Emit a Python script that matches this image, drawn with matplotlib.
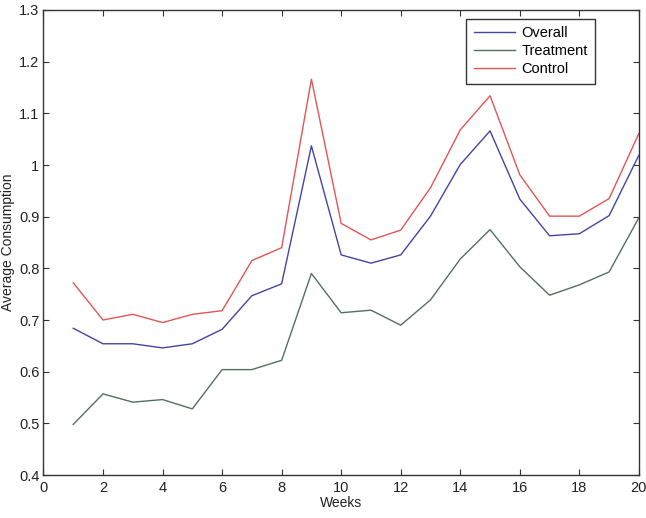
import matplotlib
matplotlib.use("Agg")
import matplotlib.pyplot as plt

plt.rcParams['font.family'] = ['Liberation Sans', 'DejaVu Sans']

weeks = list(range(1, 21))
overall = [0.684, 0.654, 0.654, 0.646, 0.654, 0.682, 0.747, 0.770, 1.037, 0.826,
           0.810, 0.826, 0.901, 1.001, 1.066, 0.934, 0.863, 0.867, 0.902, 1.019]
treatment = [0.498, 0.557, 0.541, 0.546, 0.528, 0.604, 0.604, 0.622, 0.790, 0.714,
             0.719, 0.690, 0.739, 0.818, 0.875, 0.803, 0.748, 0.768, 0.793, 0.898]
control = [0.772, 0.700, 0.711, 0.695, 0.711, 0.718, 0.815, 0.840, 1.166, 0.887,
           0.855, 0.874, 0.956, 1.068, 1.134, 0.981, 0.901, 0.901, 0.935, 1.061]
labels = ["Overall", "Treatment", "Control"]
xticks = list(range(0, 21, 2))
yticks = [0.4, 0.5, 0.6, 0.7, 0.8, 0.9, 1.0, 1.1, 1.2, 1.3]
ytick_labels = ["0.4", "0.5", "0.6", "0.7", "0.8", "0.9", "1", "1.1", "1.2", "1.3"]

fig = plt.figure(figsize=(6.46, 5.18), dpi=100)
ax = fig.add_axes([0.0673, 0.083, 0.9217, 0.8977])

ax.plot(weeks, overall, color='#4444a4', lw=1.0, label=labels[0])
ax.plot(weeks, treatment, color='#52705f', lw=1.0, label=labels[1])
ax.plot(weeks, control, color='#e25555', lw=1.0, label=labels[2])

ax.set_xlim(0, 20)
ax.set_ylim(0.4, 1.3)
ax.set_xticks(xticks)
ax.set_yticks(yticks)
ax.set_yticklabels(ytick_labels)
ax.tick_params(direction='in', top=True, right=True, length=4, width=0.8,
               labelsize=10.5, color='#333333', labelcolor='#222222')
ax.tick_params(axis='y', pad=3)
ax.tick_params(axis='x', pad=4)
for s in ax.spines.values():
    s.set_linewidth(1.0)
    s.set_color('#333333')

ax.set_xlabel("Weeks", fontsize=10, labelpad=1, color='#222222')
ax.set_ylabel("Average Consumption", fontsize=10, labelpad=3, color='#222222')

leg = ax.legend(loc='upper right', bbox_to_anchor=(0.926, 0.981), fontsize=10.5,
                fancybox=False, framealpha=1, edgecolor='#333333',
                handlelength=2.8, handletextpad=0.45, borderpad=0.5,
                labelspacing=0.28, borderaxespad=0)
leg.get_frame().set_linewidth(1.0)

fig.savefig("out.png", dpi=100)
